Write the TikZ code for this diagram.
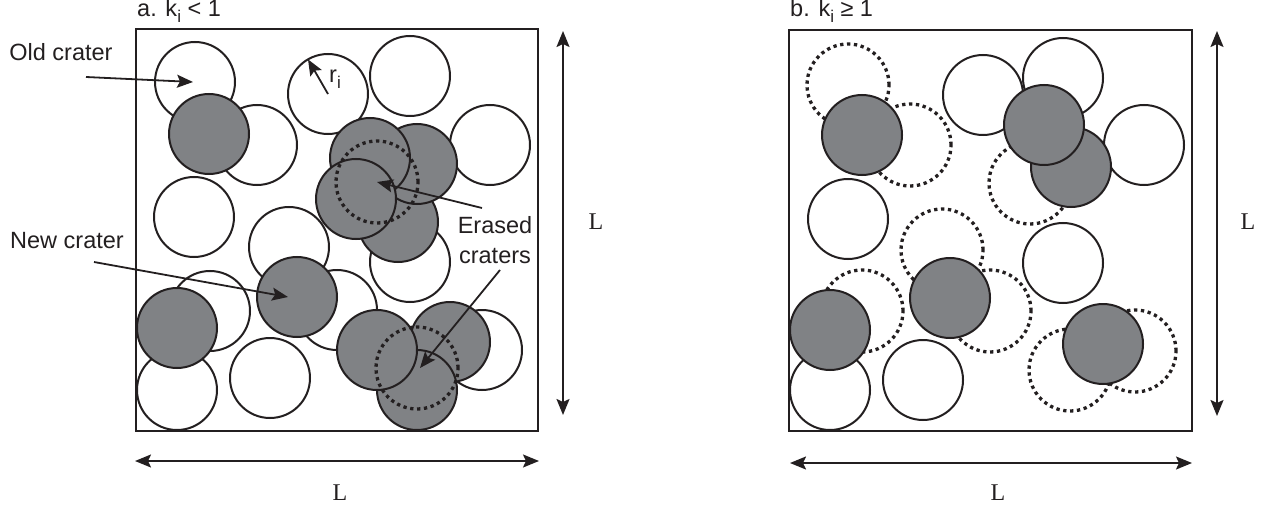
\documentclass[tikz,border=0pt]{standalone}
\usepackage{fontspec}
\setmainfont{Liberation Serif}
\setsansfont{Liberation Sans}
\usetikzlibrary{arrows.meta}
\definecolor{ink}{HTML}{231F20}
\definecolor{cgray}{HTML}{808285}
\newcommand\subidx{\raisebox{-6pt}{\fontsize{17}{17}\selectfont i}}
\begin{document}
\begin{tikzpicture}[x=1pt,y=-1pt,
  wc/.style={circle,draw=ink,fill=white,line width=2pt,minimum size=80pt,inner sep=0pt,outer sep=0pt},
  gc/.style={wc,fill=cgray},
  dc/.style={circle,draw=ink,line width=3.3pt,dash pattern=on 3.3pt off 3.6pt,minimum size=82pt,inner sep=0pt,outer sep=0pt},
  frame/.style={draw=ink,line width=2.2pt},
  lbl/.style={font=\fontsize{23.5}{30}\selectfont\sffamily,text=ink,inner sep=0pt},
  dim/.style={font=\fontsize{24}{24}\selectfont\rmfamily,text=ink,inner sep=0pt},
  ptr/.style={draw=ink,line width=1.8pt,-{Stealth[length=16pt,width=13pt,inset=3pt]}},
  dimarrow/.style={draw=ink,line width=1.8pt,{Stealth[length=16pt,width=13pt,inset=3pt]}-{Stealth[length=16pt,width=13pt,inset=3pt]}}
]
\useasboundingbox (0,0) rectangle (1268,505);

% ---------------- panel a ----------------
% old craters
\node[wc] (aw1) at (195,82) {};
\node[wc] (aw2) at (257,145) {};
\node[wc] (aw3) at (328,94) {};
\node[wc] (aw4) at (410,76) {};
\node[wc] (aw5) at (490,145) {};
\node[wc] (aw6) at (194,217) {};
\node[wc] (aw7) at (289,247) {};
\node[wc] (aw8) at (410,262) {};
\node[wc] (aw9) at (337,310) {};
\node[wc] (aw10) at (210,311) {};
\node[wc] (aw11) at (177,390) {};
\node[wc] (aw12) at (270,378) {};
\node[wc] (aw13) at (482,350) {};
% new craters
\node[gc] (ag1) at (209,134) {};
\node[gc] (agD) at (398,222) {};
\node[gc] (agB) at (417,164) {};
\node[gc] (agA) at (370,158) {};
\node[gc] (agC) at (356,199) {};
\node[gc] (agN) at (297,297) {};
\node[gc] (agL) at (177,328) {};
\node[gc] (agF) at (450,342) {};
\node[gc] (agG) at (417,390) {};
\node[gc] (agE) at (377,350) {};
% erased craters
\node[dc] (ad1) at (377,182) {};
\node[dc] (ad2) at (417,368) {};
\draw[frame] (136,29) rectangle (538,431);

\node[lbl,anchor=base west] (atitle) at (137,17) {a. k\subidx{} < 1};
\node[lbl,anchor=base] (oldlbl) at (61,61) {Old crater};
\node[lbl,anchor=base] (newlbl) at (67,248) {New crater};
\node[lbl,anchor=base,align=center] (eraslbl) at (495,263) {Erased\\craters};
\node[lbl,anchor=base west] (rlbl) at (329,83) {r\subidx};

\coordinate (oldstart) at (86,77);
\coordinate (oldtip) at (193,82);
\coordinate (newstart) at (94,262);
\coordinate (newtip) at (288,297);
\coordinate (er1start) at (482,208);
\coordinate (er2start) at (500,270);
\draw[ptr] (oldstart) -- (oldtip);
\draw[ptr] (newstart) -- (newtip);
\draw[ptr] (er1start) -- (ad1.center);
\draw[ptr] (er2start) -- ([xshift=3pt]ad2.center);
\draw[ptr] (aw3.center) -- (aw3.120);

\coordinate (ah1) at (135,461);
\coordinate (ah2) at (539,461);
\coordinate (av1) at (563,31);
\coordinate (av2) at (563,415);
\draw[dimarrow] (ah1) -- (ah2);
\draw[dimarrow] (av1) -- (av2);
\node[dim] (aLh) at (340,493) {L};
\node[dim] (aLv) at (596,222) {L};

% ---------------- panel b ----------------
\node[wc] (bw1) at (983,95) {};
\node[wc] (bw2) at (1063,78) {};
\node[wc] (bw3) at (1144,145) {};
\node[wc] (bw4) at (848,219) {};
\node[wc] (bw5) at (1063,263) {};
\node[wc] (bw6) at (830,390) {};
\node[wc] (bw7) at (923,380) {};
\node[dc] (bd1) at (848,85) {};
\node[dc] (bd2) at (910,145) {};
\node[dc] (bd3) at (1030,183) {};
\node[dc] (bd4) at (942,250) {};
\node[dc] (bd5) at (990,311) {};
\node[dc] (bd6) at (862,311) {};
\node[dc] (bd7) at (1135,351) {};
\node[dc] (bd8) at (1070,370) {};
\node[gc] (bg1) at (862,135) {};
\node[gc] (bgB) at (1071,167) {};
\node[gc] (bgA) at (1044,125) {};
\node[gc] (bg3) at (950,298) {};
\node[gc] (bg4) at (830,330) {};
\node[gc] (bg5) at (1103,344) {};
\draw[frame] (789,30) rectangle (1192,431);

\node[lbl,anchor=base west] (btitle) at (790,17) {b. k\subidx{} ≥ 1};

\coordinate (bh1) at (790,463);
\coordinate (bh2) at (1192,463);
\coordinate (bv1) at (1217,31);
\coordinate (bv2) at (1217,416);
\draw[dimarrow] (bh1) -- (bh2);
\draw[dimarrow] (bv1) -- (bv2);
\node[dim] (bLh) at (998,493) {L};
\node[dim] (bLv) at (1248,222) {L};
\end{tikzpicture}
\end{document}
